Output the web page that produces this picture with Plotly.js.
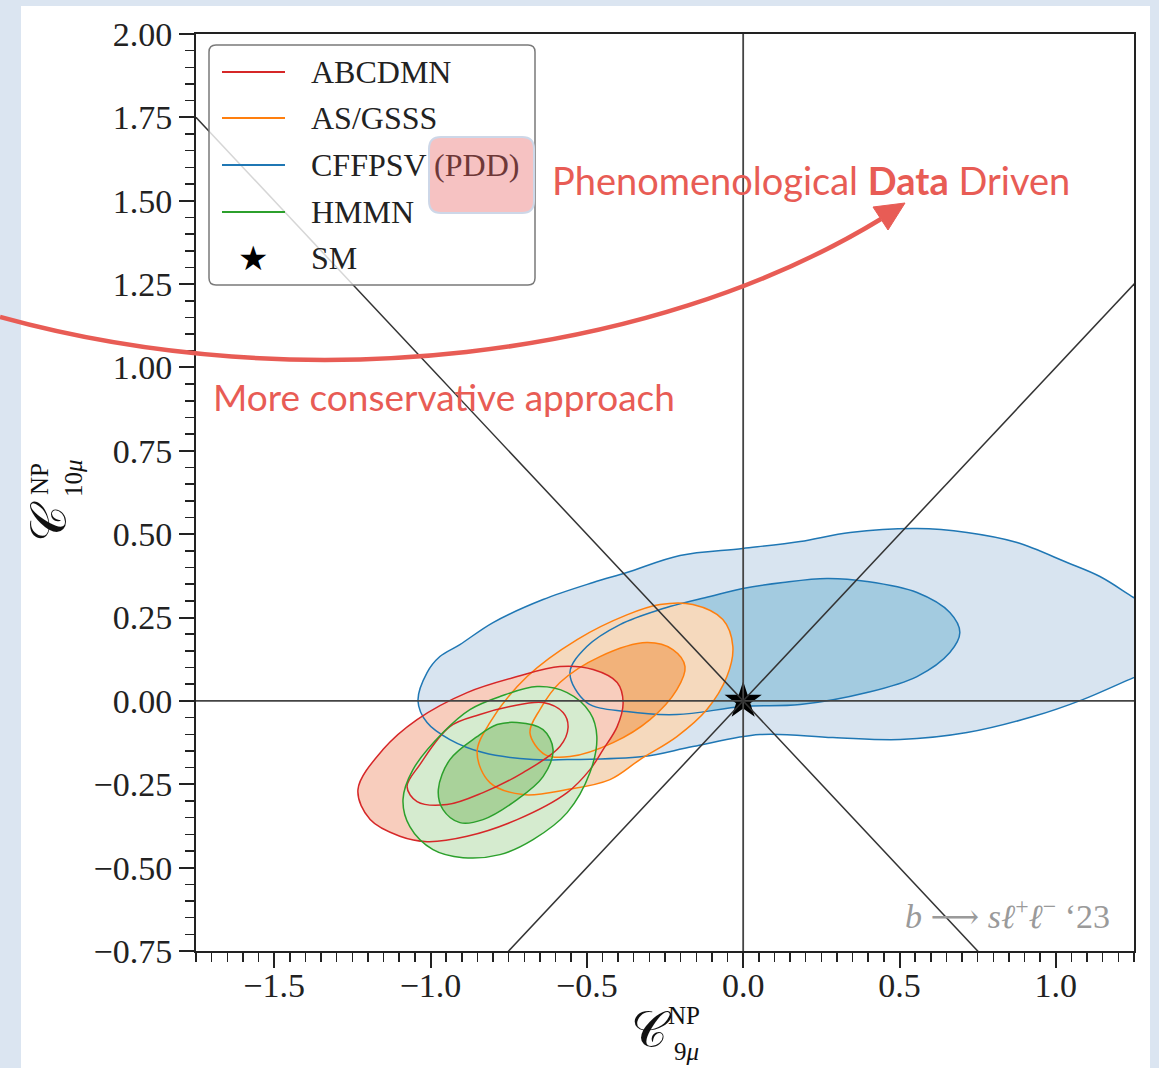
<!DOCTYPE html>
<html>
<head>
<meta charset="utf-8">
<script src="https://cdn.plot.ly/plotly-3.0.1.min.js"></script>
<style>
  html, body { margin: 0; padding: 0; background: #dbe5f1; }
  #chart { width: 1159px; height: 1068px; }
</style>
</head>
<body>
<div id="chart"></div>
<script>
// Axis ranges for the (C9, C10) plane
const xRange = [-1.75, 1.25];
const yRange = [-0.75, 2.0];
const diagonalSpan = [-2.5, 2.5];

// Fit groups, in legend order
const fitNames = ['ABCDMN', 'AS/GSSS', 'CFFPSV', 'HMMN'];
const fitTags = ['', '', '(PDD)', ''];
const smName = 'SM';
const smX = [0];
const smY = [0];
const processLabel = '<i>b</i> ⟶ <i>sℓ</i><sup>+</sup><i>ℓ</i><sup>−</sup> ‘23';

// ABCDMN: 2σ (outer) and 1σ (inner) contours
const abcdmnOuterX = [-1.232, -1.152, -1.043, -0.883, -0.723, -0.586, -0.480, -0.403, -0.384, -0.403, -0.448, -0.490, -0.563, -0.723, -0.883, -1.011, -1.098, -1.193, -1.232];
const abcdmnOuterY = [-0.266, -0.146, -0.056, 0.025, 0.073, 0.103, 0.094, 0.055, -0.005, -0.077, -0.146, -0.206, -0.275, -0.356, -0.406, -0.422, -0.406, -0.356, -0.266];
const abcdmnInnerX = [-1.075, -1.034, -0.938, -0.842, -0.746, -0.640, -0.576, -0.560, -0.586, -0.704, -0.832, -0.947, -1.043, -1.075];
const abcdmnInnerY = [-0.257, -0.191, -0.077, -0.041, -0.017, -0.005, -0.035, -0.080, -0.137, -0.215, -0.275, -0.311, -0.302, -0.257];

// AS/GSSS
const asgsssOuterX = [-0.851, -0.810, -0.691, -0.531, -0.372, -0.266, -0.161, -0.065, -0.033, -0.052, -0.116, -0.212, -0.330, -0.426, -0.563, -0.704, -0.810, -0.851];
const asgsssOuterY = [-0.155, -0.065, 0.073, 0.184, 0.258, 0.289, 0.289, 0.244, 0.163, 0.073, -0.026, -0.107, -0.176, -0.236, -0.266, -0.281, -0.245, -0.155];
const asgsssInnerX = [-0.682, -0.650, -0.586, -0.458, -0.308, -0.225, -0.186, -0.212, -0.298, -0.416, -0.554, -0.634, -0.682];
const asgsssInnerY = [-0.095, -0.026, 0.055, 0.133, 0.175, 0.154, 0.103, 0.034, -0.056, -0.125, -0.167, -0.161, -0.095];

// CFFPSV (the 2σ region runs past the right edge of the plane)
const cffpsvOuterX = [-1.040, -1.011, -0.970, -0.906, -0.800, -0.640, -0.480, -0.372, -0.202, -0.001, 0.182, 0.342, 0.556, 0.716, 0.876, 1.036, 1.141, 1.249, 1.320, 1.360, 1.330, 1.249, 1.086, 0.927, 0.716, 0.502, 0.287, 0.054, -0.161, -0.320, -0.563, -0.672, -0.832, -0.938, -1.011, -1.040];
const cffpsvOuterY = [0.000, 0.085, 0.133, 0.169, 0.235, 0.304, 0.355, 0.385, 0.436, 0.457, 0.478, 0.505, 0.517, 0.505, 0.475, 0.415, 0.373, 0.310, 0.270, 0.190, 0.100, 0.070, 0.004, -0.047, -0.095, -0.116, -0.110, -0.101, -0.137, -0.167, -0.176, -0.176, -0.155, -0.116, -0.065, 0.000];
const cffpsvInnerX = [-0.554, -0.500, -0.394, -0.266, -0.106, -0.001, 0.127, 0.268, 0.396, 0.556, 0.661, 0.693, 0.661, 0.556, 0.396, 0.182, -0.001, -0.212, -0.372, -0.500, -0.554];
const cffpsvInnerY = [0.085, 0.163, 0.229, 0.274, 0.313, 0.337, 0.355, 0.367, 0.358, 0.325, 0.265, 0.205, 0.145, 0.073, 0.025, -0.011, -0.017, -0.041, -0.032, -0.005, 0.085];

// HMMN
const hmmnOuterX = [-1.088, -1.056, -0.960, -0.874, -0.778, -0.659, -0.563, -0.490, -0.468, -0.490, -0.563, -0.672, -0.778, -0.896, -0.992, -1.066, -1.088];
const hmmnOuterY = [-0.296, -0.206, -0.095, -0.026, 0.013, 0.043, 0.025, -0.035, -0.107, -0.215, -0.335, -0.416, -0.461, -0.470, -0.446, -0.377, -0.296];
const hmmnInnerX = [-0.975, -0.938, -0.851, -0.787, -0.723, -0.640, -0.608, -0.640, -0.723, -0.832, -0.906, -0.960, -0.975];
const hmmnInnerY = [-0.266, -0.176, -0.107, -0.071, -0.065, -0.086, -0.146, -0.227, -0.296, -0.356, -0.365, -0.326, -0.266];

// Styling per fit: edge colour and pastel fills for the 2σ / 1σ regions
const fitStyle = {
  'ABCDMN':  { line: '#d62728', fills: ['#f8cdbd', '#f6c2b0'] },
  'AS/GSSS': { line: '#ff7f0e', fills: ['#f5d9bd', '#f2b27a'] },
  'CFFPSV':  { line: '#1f77b4', fills: ['#d8e4f0', '#a3cbe0'] },
  'HMMN':    { line: '#2ca02c', fills: ['#d5ebcf', '#a9d29a'] }
};
const contours = {
  'ABCDMN':  [[abcdmnOuterX, abcdmnOuterY], [abcdmnInnerX, abcdmnInnerY]],
  'AS/GSSS': [[asgsssOuterX, asgsssOuterY], [asgsssInnerX, asgsssInnerY]],
  'CFFPSV':  [[cffpsvOuterX, cffpsvOuterY], [cffpsvInnerX, cffpsvInnerY]],
  'HMMN':    [[hmmnOuterX, hmmnOuterY], [hmmnInnerX, hmmnInnerY]]
};
const drawOrder = ['CFFPSV', 'AS/GSSS', 'ABCDMN', 'HMMN'];

const traces = [];
// filled regions first
drawOrder.forEach(name => {
  const st = fitStyle[name];
  contours[name].forEach((c, k) => {
    traces.push({
      type: 'scatter', mode: 'lines', name: name,
      x: c[0], y: c[1],
      fill: 'toself', fillcolor: st.fills[k],
      line: { color: 'rgba(0,0,0,0)', width: 0, shape: 'spline', smoothing: 1 },
      hoverinfo: 'skip', showlegend: false
    });
  });
});
// contour edges on top of every fill
drawOrder.forEach(name => {
  const st = fitStyle[name];
  contours[name].forEach(c => {
    traces.push({
      type: 'scatter', mode: 'lines', name: name,
      x: c[0], y: c[1],
      line: { color: st.line, width: 1.5, shape: 'spline', smoothing: 1 },
      hoverinfo: 'skip', showlegend: false
    });
  });
});
traces.push({
  type: 'scatter', mode: 'markers', name: smName,
  x: smX, y: smY,
  marker: { symbol: 'star', size: 28, color: '#000000', line: { width: 0 } },
  cliponaxis: false, showlegend: false, hoverinfo: 'skip'
});

// Pixel -> paper helpers for the decorations around the plot area
const M = { l: 196, r: 25, t: 34, b: 117 };
const W = 1159, H = 1068;
const PW = W - M.l - M.r, PH = H - M.t - M.b;
const px = v => (v - M.l) / PW;
const py = v => (H - M.b - v) / PH;

function roundRect(x0, y0, x1, y1, r) {
  const a = px(x0), b = px(x1), top = py(y0), bot = py(y1);
  const rx = r / PW, ry = r / PH;
  return 'M' + (a + rx) + ',' + top + ' L' + (b - rx) + ',' + top +
    ' Q' + b + ',' + top + ' ' + b + ',' + (top - ry) +
    ' L' + b + ',' + (bot + ry) + ' Q' + b + ',' + bot + ' ' + (b - rx) + ',' + bot +
    ' L' + (a + rx) + ',' + bot + ' Q' + a + ',' + bot + ' ' + a + ',' + (bot + ry) +
    ' L' + a + ',' + (top - ry) + ' Q' + a + ',' + top + ' ' + (a + rx) + ',' + top + ' Z';
}

const accent = '#e85c55';
const serif = 'Liberation Serif, DejaVu Serif, serif';
const sans = 'Lato, Open Sans, sans-serif';

const shapes = [
  // white slide panel
  { type: 'rect', xref: 'paper', yref: 'paper', x0: px(21), x1: px(1150), y0: py(1080), y1: py(6),
    fillcolor: '#ffffff', line: { width: 0 }, layer: 'below' },
  // C9 = 0 and C10 = 0
  { type: 'line', xref: 'x', yref: 'y', x0: 0, x1: 0, y0: yRange[0], y1: yRange[1],
    line: { color: '#444444', width: 1.8 }, layer: 'above' },
  { type: 'line', xref: 'x', yref: 'y', x0: xRange[0], x1: xRange[1], y0: 0, y1: 0,
    line: { color: '#444444', width: 1.8 }, layer: 'above' },
  // diagonals C10 = ±C9
  { type: 'line', xref: 'x', yref: 'y', x0: diagonalSpan[0], y0: -diagonalSpan[0], x1: diagonalSpan[1], y1: -diagonalSpan[1],
    line: { color: '#333333', width: 1.5 }, layer: 'above' },
  { type: 'line', xref: 'x', yref: 'y', x0: diagonalSpan[0], y0: diagonalSpan[0], x1: diagonalSpan[1], y1: diagonalSpan[1],
    line: { color: '#333333', width: 1.5 }, layer: 'above' },
  // legend frame
  { type: 'path', xref: 'paper', yref: 'paper', path: roundRect(209, 45, 535, 285, 7),
    fillcolor: 'rgba(255,255,255,0.8)', line: { color: '#7a7a7a', width: 1.5 }, layer: 'above' },
  // PDD highlight
  { type: 'path', xref: 'paper', yref: 'paper', path: roundRect(429, 137, 534, 213, 12),
    fillcolor: 'rgba(236,120,120,0.45)', line: { color: '#cdd7e8', width: 2 }, layer: 'above' },
  // curved arrow
  { type: 'path', xref: 'paper', yref: 'paper',
    path: 'M' + px(0) + ',' + py(317) + ' C' + px(300) + ',' + py(400) + ' ' + px(650) + ',' + py(360) + ' ' + px(881) + ',' + py(219),
    line: { color: accent, width: 4.5 }, layer: 'above' },
  { type: 'path', xref: 'paper', yref: 'paper',
    path: 'M' + px(905) + ',' + py(203) + ' L' + px(888) + ',' + py(230) + ' L' + px(873) + ',' + py(207) + ' Z',
    fillcolor: accent, line: { color: accent, width: 1 }, layer: 'above' }
];

// legend rows
const legendRows = [72, 118, 165, 212, 258];
fitNames.forEach((n, i) => {
  shapes.push({ type: 'line', xref: 'paper', yref: 'paper', x0: px(222), x1: px(285), y0: py(legendRows[i]), y1: py(legendRows[i]),
    line: { color: fitStyle[n].line, width: 1.8 }, layer: 'above' });
});

const annotations = [];
fitNames.forEach((n, i) => {
  const label = fitTags[i] ? n + ' <span style="color:#6e3838">' + fitTags[i] + '</span>' : n;
  annotations.push({ xref: 'paper', yref: 'paper', x: px(309), y: py(legendRows[i]), xanchor: 'left', yanchor: 'middle',
    text: label, showarrow: false, font: { family: serif, size: 32, color: '#222222' } });
});
annotations.push({ xref: 'paper', yref: 'paper', x: px(253), y: py(legendRows[4]), xanchor: 'center', yanchor: 'middle',
  text: '★', showarrow: false, font: { family: 'DejaVu Sans', size: 34, color: '#000000' } });
annotations.push({ xref: 'paper', yref: 'paper', x: px(309), y: py(legendRows[4]), xanchor: 'left', yanchor: 'middle',
  text: smName, showarrow: false, font: { family: serif, size: 32, color: '#222222' } });

// process tag
annotations.push({ xref: 'paper', yref: 'paper', x: px(1112), y: py(914), xanchor: 'right', yanchor: 'middle',
  text: processLabel, showarrow: false, font: { family: serif, size: 34, color: '#9a9a9a' } });

// slide callouts
annotations.push({ xref: 'paper', yref: 'paper', x: px(550), y: py(180), xanchor: 'left', yanchor: 'middle',
  text: 'Phenomenological <b>Data</b> Driven', showarrow: false, font: { family: sans, size: 38, color: accent } });
annotations.push({ xref: 'paper', yref: 'paper', x: px(211), y: py(396), xanchor: 'left', yanchor: 'middle',
  text: 'More conservative approach', showarrow: false, font: { family: sans, size: 37, color: accent } });

// superscripts and subscripts stacked beside the axis-title letters
const idxFont = { family: serif, size: 25, color: '#111111' };
annotations.push({ xref: 'paper', yref: 'paper', x: px(684), y: py(1015), xanchor: 'center', yanchor: 'middle',
  text: 'NP', showarrow: false, font: idxFont });
annotations.push({ xref: 'paper', yref: 'paper', x: px(686), y: py(1051), xanchor: 'center', yanchor: 'middle',
  text: '9<i>μ</i>', showarrow: false, font: idxFont });
annotations.push({ xref: 'paper', yref: 'paper', x: px(40), y: py(479), xanchor: 'center', yanchor: 'middle', textangle: -90,
  text: 'NP', showarrow: false, font: idxFont });
annotations.push({ xref: 'paper', yref: 'paper', x: px(73), y: py(478), xanchor: 'center', yanchor: 'middle', textangle: -90,
  text: '10<i>μ</i>', showarrow: false, font: idxFont });

const axisCommon = {
  ticks: 'outside', ticklen: 15, tickwidth: 2, tickcolor: '#222222',
  showline: true, mirror: true, linecolor: '#222222', linewidth: 2,
  showgrid: false, zeroline: false,
  tickfont: { family: serif, size: 34, color: '#222222' },
  fixedrange: true
};
const titleFont = { family: 'DejaVu Serif, serif', size: 50, color: '#111111' };

const layout = {
  width: W, height: H,
  margin: M,
  paper_bgcolor: '#dbe5f1',
  plot_bgcolor: '#ffffff',
  showlegend: false,
  font: { family: serif, color: '#222222' },
  xaxis: Object.assign({}, axisCommon, {
    range: xRange, tick0: 0, dtick: 0.5, tickformat: '.1f', ticklabelstandoff: -12,
    minor: { tick0: 0, dtick: 0.05, ticks: 'outside', ticklen: 9, tickwidth: 1.5, tickcolor: '#222222', showgrid: false },
    title: { text: '𝒞&nbsp;&nbsp;', font: titleFont, standoff: 9 }
  }),
  yaxis: Object.assign({}, axisCommon, {
    range: yRange, tick0: 0, dtick: 0.25, tickformat: '.2f',
    minor: { tick0: 0, dtick: 0.05, ticks: 'outside', ticklen: 9, tickwidth: 1.5, tickcolor: '#222222', showgrid: false },
    title: { text: '𝒞&nbsp;&nbsp;&nbsp;&nbsp;', font: titleFont, standoff: 11 }
  }),
  shapes: shapes,
  annotations: annotations
};

Plotly.newPlot('chart', traces, layout, { displayModeBar: false, staticPlot: true });
</script>
</body>
</html>
